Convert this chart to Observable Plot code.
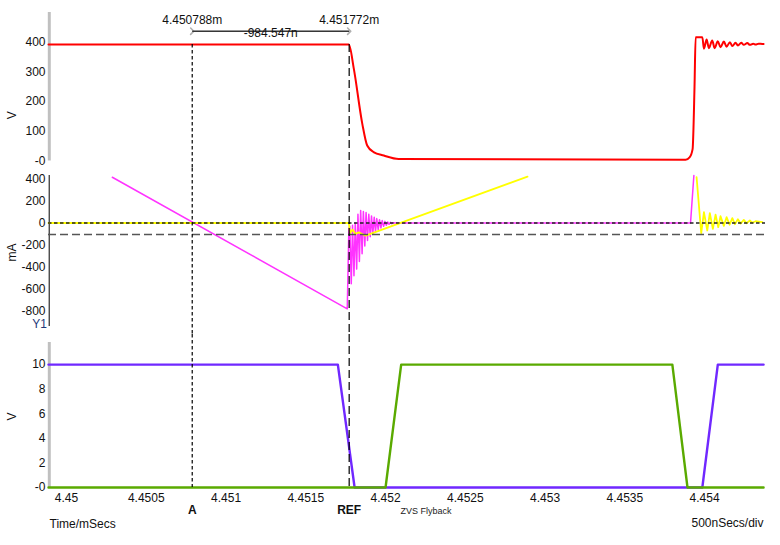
<!DOCTYPE html>
<html><head><meta charset="utf-8">
<script src="https://cdn.jsdelivr.net/npm/d3@7"></script>
<script src="https://cdn.jsdelivr.net/npm/@observablehq/plot@0.6"></script>
<style>
html,body{margin:0;padding:0;background:#fff;overflow:hidden}
#chart svg{display:block}
</style></head><body><div id="chart"></div>
<script>
// ---- shared x (time, mSecs) ----
const xDomain = [4.449887, 4.454382];
const xTicks = [4.45, 4.4505, 4.451, 4.4515, 4.452, 4.4525, 4.453, 4.4535, 4.454];
const xTickLabels = ["4.45", "4.4505", "4.451", "4.4515", "4.452", "4.4525", "4.453", "4.4535", "4.454"];
const cursorA = 4.450788;
const cursorRef = 4.451772;
const cursorNames = ["A", "REF"];
const cursorReadouts = ["4.450788m", "4.451772m"];
const deltaReadout = "-984.547n";

// ---- panel 1: V ----
const vDomain = [0, 500];
const vTicks = [0, 100, 200, 300, 400];
const vTickLabels = ["-0", "100", "200", "300", "400"];
const redT = [4.449887, 4.451770, 4.451801, 4.451854, 4.451885, 4.451925, 4.451989, 4.452082, 4.453881, 4.453906, 4.453925, 4.453937, 4.453944, 4.453986, 4.453996, 4.454013, 4.454027, 4.454048, 4.454063, 4.454083, 4.454100, 4.454121, 4.454138, 4.454159, 4.454174, 4.454194, 4.454209, 4.454230, 4.454246, 4.454268, 4.454284, 4.454305, 4.454320, 4.454339, 4.454362, 4.454370];
const redV = [392, 392, 311, 126, 52, 30, 18.5, 7, 4, 12, 40, 250, 417, 417, 378, 409, 380, 406, 380, 403, 383, 402, 385, 400, 387, 398, 389, 398, 391, 397, 391, 395, 392, 395, 394, 394];

// ---- panel 2: mA ----
const iDomain = [-943, 433];
const iTicks = [-800, -600, -400, -200, 0, 200, 400];
const iTickLabels = ["-800", "-600", "-400", "-200", "0", "200", "400"];
const magT = [4.450287, 4.451760, 4.451770, 4.451776, 4.451785, 4.451793, 4.451802, 4.451810, 4.451819, 4.451827, 4.451836, 4.451844, 4.451853, 4.451861, 4.451870, 4.451878, 4.451887, 4.451895, 4.451904, 4.451912, 4.451920, 4.451929, 4.451937, 4.451945, 4.451954, 4.451962, 4.451971, 4.451979, 4.451988, 4.451996, 4.452005, 4.452013, 4.452022, 4.452030, 4.452039, 4.452047, 4.452063, 4.453912, 4.453933];
const magI = [417, -782, -50, -30, -554, -20, -480, 0, -420, 80, -350, 114, -280, 105, -210, 95, -160, 80, -125, 65, -100, 52, -80, 40, -60, 30, -45, 22, -30, 15, -20, 10, -12, 6, -6, 3, 0, 0, 433];
const yelT = [4.449887, 4.451770, 4.451777, 4.451793, 4.451812, 4.451831, 4.451875, 4.452890, null, 4.453950, 4.453979, 4.453996, 4.454017, 4.454033, 4.454052, 4.454069, 4.454086, 4.454100, 4.454121, 4.454138, 4.454157, 4.454174, 4.454190, 4.454209, 4.454226, 4.454246, 4.454263, 4.454284, 4.454299, 4.454320, 4.454362];
const yelI = [0, 0, -90, -60, -100, -85, -115, 423, null, 417, -93, 98, -68, 89, -53, 77, -38, 62, -26, 53, -16, 44, -11, 35, -5, 29, -2, 23, 2, 16, 8];
const levelA = 0;      // cursor A reading on magenta
const levelRef = -105; // cursor REF reading on yellow

// ---- panel 3: V ----
const gDomain = [0, 11.8];
const gTicks = [0, 2, 4, 6, 8, 10];
const gTickLabels = ["-0", "2", "4", "6", "8", "10"];
const purT = [4.449887, 4.451701, 4.451806, 4.453986, 4.454083, 4.454370];
const purV = [10, 10, 0, 0, 10, 10];
const grnT = [4.449887, 4.452000, 4.452098, 4.453798, 4.453893, 4.454370];
const grnV = [0, 0, 10, 10, 0, 0];

// ---- build tables ----
const zip = (T, Y) => T.map((t, i) => ({t, v: Y[i]}));
const red = zip(redT, redV), mag = zip(magT, magI), yel = zip(yelT, yelI);
const pur = zip(purT, purV), grn = zip(grnT, grnV);
const cursors = [cursorA, cursorRef].map((t, i) => ({t, name: cursorNames[i], readout: cursorReadouts[i]}));
const measure = [{a: cursorA, b: cursorRef, mid: (cursorA + cursorRef) / 2, text: deltaReadout}];

const font = "'Liberation Sans', Arial, sans-serif";
const style = {fontFamily: font, fontSize: "12px", color: "#111", background: "white", overflow: "visible"};
const fmt = (ticks, labels) => (d) => labels[ticks.indexOf(d)];
const dashA = "3.5,2.5", dashRef = "8,4";
const common = {width: 780, marginLeft: 48, marginRight: 15, style};

const p1 = Plot.plot({
  ...common, height: 168, marginTop: 12, marginBottom: 7.5,
  x: {domain: xDomain, axis: null},
  y: {domain: vDomain, ticks: vTicks, tickFormat: fmt(vTicks, vTickLabels), tickSize: 0, tickPadding: 3, label: null},
  marks: [
    Plot.ruleX([xDomain[0]], {stroke: "#c0c0c0", strokeWidth: 3, dx: 0.8}),
    Plot.line(red, {x: "t", y: "v", stroke: "#ff0000", strokeWidth: 2, curve: "monotone-x"}),
    Plot.ruleX([cursorA], {y1: redV[0], y2: vDomain[0], insetBottom: -7.5, stroke: "#000", strokeWidth: 1.2, strokeDasharray: dashA}),
    Plot.ruleX([cursorRef], {y1: redV[0], y2: vDomain[0], insetBottom: -7.5, stroke: "#000", strokeWidth: 1.2, strokeDasharray: dashRef}),
    Plot.text(cursors, {x: "t", text: "readout", frameAnchor: "top", lineAnchor: "middle", dy: 7.5, fill: "#111"}),
    Plot.link(measure, {x1: "a", x2: "b", y1: vDomain[1], y2: vDomain[1], dy: 18.7, stroke: "#b0b0b0", strokeWidth: 1.6, markerStart: "arrow", markerEnd: "arrow"}),
    Plot.link(measure, {x1: "a", x2: "b", y1: vDomain[1], y2: vDomain[1], dy: 18.7, stroke: "#000", strokeWidth: 1}),
    Plot.text(measure, {x: "mid", text: "text", frameAnchor: "top", lineAnchor: "middle", dy: 20.2, fill: "#111"}),
    Plot.text(["V"], {text: d => d, frameAnchor: "left", textAnchor: "middle", lineAnchor: "middle", rotate: -90, dx: -36, dy: 28.5, fill: "#111"})
  ]
});

const p2 = Plot.plot({
  ...common, height: 166, marginTop: 7, marginBottom: 8,
  x: {domain: xDomain, axis: null},
  y: {domain: iDomain, ticks: iTicks, tickFormat: fmt(iTicks, iTickLabels), tickSize: 0, tickPadding: 3, label: null},
  marks: [
    Plot.ruleX([xDomain[0]], {stroke: "#000", strokeWidth: 1, dx: 0.7}),
    Plot.line(mag, {x: "t", y: "v", stroke: "#ff33ff", strokeWidth: 1.5}),
    Plot.line(yel, {x: "t", y: "v", stroke: "#ffff00", strokeWidth: 1.8}),
    Plot.ruleY([levelA], {stroke: "#222", strokeWidth: 1.4, strokeDasharray: dashA}),
    Plot.ruleY([levelRef], {stroke: "#555", strokeWidth: 1.4, strokeDasharray: dashRef}),
    Plot.ruleX([cursorA], {insetTop: -7, insetBottom: -8, stroke: "#000", strokeWidth: 1.2, strokeDasharray: dashA}),
    Plot.ruleX([cursorRef], {insetTop: -7, insetBottom: -8, stroke: "#000", strokeWidth: 1.2, strokeDasharray: dashRef}),
    Plot.text(["mA"], {text: d => d, frameAnchor: "left", textAnchor: "middle", lineAnchor: "middle", rotate: -90, dx: -36, dy: 1.5, fill: "#111"}),
    Plot.text(["Y1"], {text: d => d, frameAnchor: "bottom-left", textAnchor: "end", lineAnchor: "middle", dx: -1.5, dy: -2.7, fill: "#1f3a7a"})
  ]
});

const p3 = Plot.plot({
  ...common, height: 211, marginTop: 8, marginBottom: 58,
  x: {domain: xDomain, ticks: xTicks, tickFormat: fmt(xTicks, xTickLabels), tickSize: 0, tickPadding: 6, label: null},
  y: {domain: gDomain, ticks: gTicks, tickFormat: fmt(gTicks, gTickLabels), tickSize: 0, tickPadding: 3, label: null},
  marks: [
    Plot.ruleX([xDomain[0]], {stroke: "#c0c0c0", strokeWidth: 3, dx: 0.8}),
    Plot.line(pur, {x: "t", y: "v", stroke: "#7028ff", strokeWidth: 2.4}),
    Plot.line(grn, {x: "t", y: "v", stroke: "#5aaa00", strokeWidth: 2.4}),
    Plot.ruleX([cursorA], {insetTop: -8, stroke: "#000", strokeWidth: 1.2, strokeDasharray: dashA}),
    Plot.ruleX([cursorRef], {insetTop: -8, stroke: "#000", strokeWidth: 1.2, strokeDasharray: dashRef}),
    Plot.text(cursors, {x: "t", text: "name", frameAnchor: "bottom", lineAnchor: "middle", dy: 23, fontWeight: "bold", fill: "#111"}),
    Plot.text(["ZVS Flyback"], {text: d => d, frameAnchor: "bottom", textAnchor: "start", lineAnchor: "middle", dx: -6.5, dy: 24, fontSize: 9, fill: "#222"}),
    Plot.text(["Time/mSecs"], {text: d => d, frameAnchor: "bottom-left", textAnchor: "start", lineAnchor: "middle", dx: 1, dy: 36.5, fill: "#111"}),
    Plot.text(["500nSecs/div"], {text: d => d, frameAnchor: "bottom-right", textAnchor: "end", lineAnchor: "middle", dx: -2, dy: 36, fill: "#111"}),
    Plot.text(["V"], {text: d => d, frameAnchor: "left", textAnchor: "middle", lineAnchor: "middle", rotate: -90, dx: -36, dy: 1.5, fill: "#111"})
  ]
});

const root = document.getElementById("chart");
root.append(p1, p2, p3);
</script></body></html>
